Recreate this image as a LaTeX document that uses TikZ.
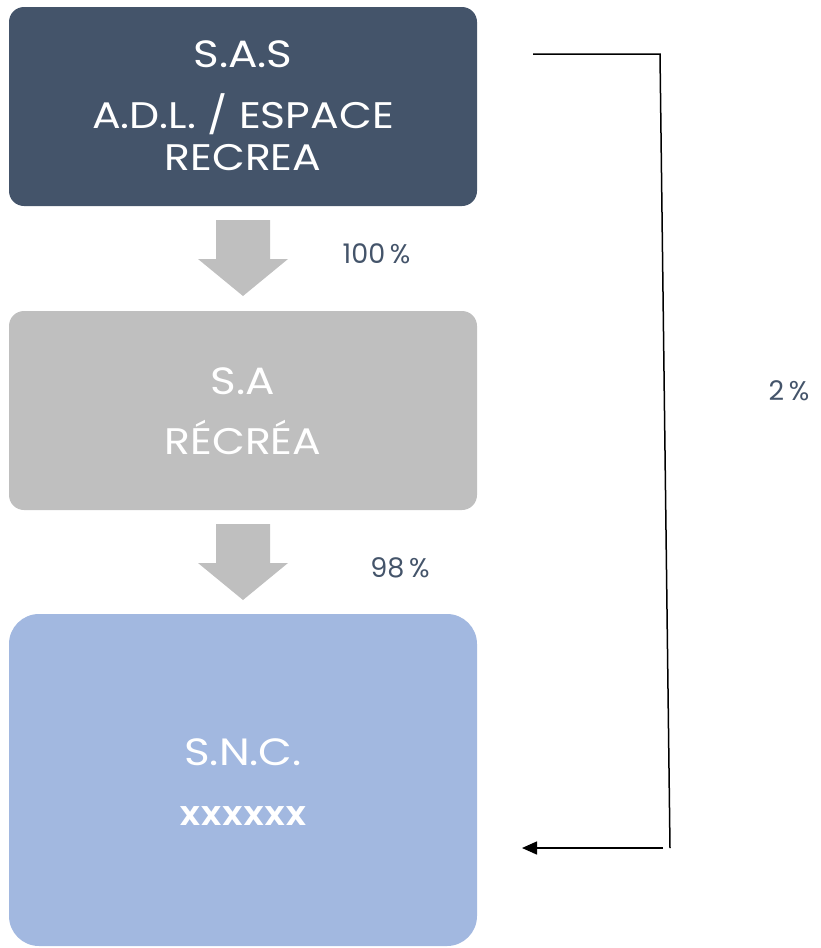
\documentclass[tikz,border=0pt]{standalone}
\usepackage{fontspec}
\setmainfont{Poppins}
\newfontfamily\widefont[FakeStretch=1.15]{Poppins}
\newfontfamily\semifont[FakeStretch=1.1]{Poppins}
\usetikzlibrary{arrows.meta}
\definecolor{darkbox}{HTML}{44546A}
\definecolor{graybox}{HTML}{BFBFBF}
\definecolor{bluebox}{HTML}{A2B8E0}
\definecolor{labelcol}{HTML}{44546A}
\tikzset{
  entity/.style={rounded corners=15pt, minimum width=468pt, inner sep=0pt, draw=none},
  bigtext/.style={text=white, anchor=base, inner sep=0pt, font=\widefont\fontsize{38}{42}\selectfont},
  subtext/.style={text=white, anchor=base, inner sep=0pt, font=\widefont\fontsize{37}{41}\selectfont},
  boldsub/.style={text=white, anchor=base, inner sep=0pt, font=\semifont\bfseries\fontsize{27}{31}\selectfont},
  pct/.style={text=labelcol, anchor=base, inner sep=0pt, font=\fontsize{27}{30}\selectfont},
  downarrow/.style={fill=graybox, draw=none},
  link/.style={draw=black, line width=1.5pt},
}
\begin{document}
\begin{tikzpicture}[x=1pt, y=-1pt]
\useasboundingbox (0,0) rectangle (821,948);
% boxes
\node[entity, fill=darkbox, minimum height=199pt] (sas) at (243,106.5) {};
\node[entity, fill=graybox, minimum height=199pt] (sa) at (243,410.5) {};
\node[entity, fill=bluebox, minimum height=332pt, rounded corners=30pt] (snc) at (243,780) {};
% texts
\node[bigtext] (t1) at (243,67) {S.A.S};
\node[subtext] (t2) at (243,128) {A.D.L. / ESPACE};
\node[subtext] (t3) at (243,170) {RECREA};
\node[bigtext] (t4) at (243,394) {S.A};
\node[subtext] (t5) at (243,454) {RÉCRÉA};
\node[bigtext] (t6) at (243,765) {S.N.C.};
\node[boldsub] (t7) at (243,825) {XXXXXX};
% block arrows
\fill[downarrow] (216,220) -- (270,220) -- (270,259) -- (288,259) -- (243,296) -- (198,259) -- (216,259) -- cycle;
\fill[downarrow] (216,524) -- (270,524) -- (270,563) -- (288,563) -- (243,600) -- (198,563) -- (216,563) -- cycle;
% percentages
\node[pct] (p1) at (376.5,263) {100\,\%};
\node[pct] (p2) at (400,577) {98\,\%};
\node[pct] (p3) at (789,400) {2\,\%};
% connector
\coordinate (c1) at (533,54);
\coordinate (c2) at (660,54);
\coordinate (c3) at (670,848);
\coordinate (c4) at (663,848);
\coordinate (c5) at (522,848);
\draw[link] (c1) -- (c2) -- (c3);
\draw[link, -{Triangle[length=15pt, width=13pt]}] (c4) -- (c5);
\end{tikzpicture}
\end{document}
